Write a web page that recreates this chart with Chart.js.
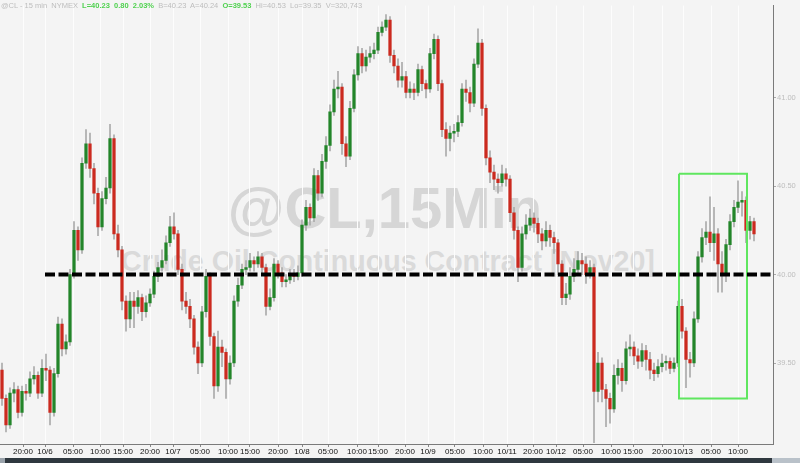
<!DOCTYPE html>
<html>
<head>
<meta charset="utf-8">
<script src="https://cdn.jsdelivr.net/npm/chart.js@4"></script>
<style>
  html, body { margin:0; padding:0; }
  body { width:800px; height:463px; overflow:hidden; position:relative; background:#f4f4f4; font-family:"Liberation Sans", Arial, sans-serif; }
  .wm { position:absolute; white-space:nowrap; font-weight:bold; transform:translateX(-50%); line-height:1; }
  #wm1 { left:385px; top:179px; font-size:58px; color:#d6d6d6; }
  #wm2 { left:388px; top:247px; font-size:28.6px; color:#dadada; }
  #hdr { position:absolute; left:1px; top:1px; font-size:7.5px; line-height:9px; color:#bdbdbd; white-space:nowrap; z-index:3; }
  #hdr .g { color:#4fd14f; font-weight:bold; }
  #c { position:absolute; left:0; top:0; z-index:2; }
  #sb { position:absolute; left:0; top:458px; width:800px; height:5px; background:#2f383f; }
  #sb .l { position:absolute; left:0; top:0; width:5px; height:5px; background:#9aa3ab; }
  #sb .r { position:absolute; left:772px; top:0; width:28px; height:5px; background:#b9c1c9; }
</style>
</head>
<body>
<div class="wm" id="wm1">@CL,15Min</div>
<div class="wm" id="wm2">Crude Oil Continuous Contract [Nov20]</div>
<div id="hdr">@CL - 15 min&nbsp; NYMEX&nbsp; <span class="g">L=40.23&nbsp; 0.80&nbsp; 2.03%</span>&nbsp; B=40.23&nbsp; A=40.24&nbsp; <span class="g">O=39.53</span>&nbsp; Hi=40.53&nbsp; Lo=39.35&nbsp; V=320,743</div>
<canvas id="c" width="800" height="458"></canvas>
<div id="sb"><div class="l"></div><div class="r"></div></div>
<script>
// ---- data (15-min candles) ----
const openFirst = 39.46;
const closes = [39.30,39.15,39.33,39.35,39.22,39.34,39.33,39.41,39.43,39.33,
39.47,39.46,39.22,39.44,39.72,39.58,39.62,40.00,40.25,40.14,
40.63,40.74,40.60,40.46,40.27,40.43,40.49,40.77,40.23,40.14,
39.85,39.75,39.85,39.82,39.87,39.79,39.84,39.89,39.99,40.04,
40.08,40.18,40.27,40.23,40.03,39.85,39.82,39.75,39.59,39.50,
39.79,39.99,39.65,39.37,39.59,39.56,39.41,39.50,39.85,39.94,
40.03,40.04,40.08,40.06,40.10,40.04,39.82,39.87,40.06,40.01,
39.96,39.97,40.00,39.99,40.01,40.28,40.38,40.32,40.56,40.46,
40.64,40.73,40.92,41.05,41.06,40.74,40.67,40.94,41.13,41.25,
41.18,41.23,41.25,41.27,41.37,41.40,41.44,41.24,41.18,41.10,
41.12,41.03,41.05,41.03,41.16,41.08,41.05,41.25,41.33,41.08,
40.82,40.77,40.80,40.81,40.86,41.05,41.03,40.97,41.19,41.31,
40.94,40.66,40.58,40.54,40.52,40.57,40.54,40.35,40.25,40.04,
40.23,40.28,40.32,40.29,40.23,40.19,40.25,40.21,40.18,40.06,
39.87,39.89,39.99,40.03,40.08,40.06,40.00,40.04,39.34,39.50,
39.35,39.30,39.24,39.43,39.47,39.40,39.58,39.59,39.54,39.51,
39.57,39.52,39.46,39.44,39.48,39.50,39.51,39.47,39.50,39.82,
39.68,39.52,39.50,39.75,40.10,40.21,40.24,40.18,40.23,40.06,
40.01,40.17,40.30,40.38,40.41,40.42,40.25,40.30,40.23];
const highs = [39.50,39.32,39.36,39.39,39.37,39.37,39.38,39.45,39.48,39.45,
39.52,39.55,39.48,39.47,39.76,39.75,39.66,40.03,40.30,40.27,
40.66,40.82,40.80,40.63,40.49,40.47,40.55,40.85,40.79,40.28,
40.16,39.88,39.90,39.90,39.91,39.89,39.88,39.92,40.02,40.07,
40.14,40.22,40.33,40.35,40.25,40.06,39.90,39.86,39.77,39.62,
39.82,40.03,40.01,39.67,39.68,39.63,39.58,39.54,39.88,39.98,
40.06,40.08,40.12,40.10,40.13,40.12,40.06,39.92,40.09,40.08,
40.04,40.00,40.03,40.03,40.05,40.31,40.42,40.40,40.60,40.59,
40.68,40.78,40.96,41.10,41.15,41.08,40.78,40.98,41.16,41.29,
41.28,41.27,41.29,41.31,41.40,41.43,41.47,41.46,41.27,41.22,
41.20,41.15,41.09,41.08,41.19,41.18,41.10,41.28,41.36,41.35,
41.10,40.86,40.84,40.85,40.90,41.08,41.10,41.06,41.22,41.39,
41.33,40.96,40.70,40.62,40.57,40.62,40.60,40.56,40.38,40.27,
40.27,40.34,40.37,40.35,40.32,40.26,40.30,40.28,40.24,40.20,
40.08,39.95,40.04,40.09,40.13,40.12,40.10,40.08,40.06,39.56,
39.53,39.38,39.33,39.49,39.52,39.50,39.62,39.66,39.62,39.58,
39.61,39.60,39.56,39.50,39.52,39.55,39.54,39.53,39.53,39.85,
39.86,39.70,39.56,39.79,40.13,40.26,40.30,40.44,40.38,40.26,
40.13,40.20,40.34,40.42,40.53,40.47,40.44,40.33,40.32];
const lows = [39.26,39.11,39.13,39.28,39.19,39.20,39.29,39.31,39.38,39.30,
39.31,39.40,39.15,39.20,39.42,39.54,39.55,39.60,39.98,40.08,
40.12,40.60,40.55,40.40,40.22,40.25,40.40,40.46,40.20,40.10,
39.80,39.68,39.70,39.70,39.78,39.74,39.76,39.82,39.87,39.96,
40.02,40.06,40.16,40.20,40.00,39.80,39.78,39.70,39.55,39.44,
39.48,39.76,39.60,39.30,39.34,39.48,39.30,39.38,39.48,39.82,
39.92,40.00,40.02,40.02,40.04,40.00,39.77,39.80,39.85,39.98,
39.93,39.93,39.95,39.96,39.97,39.99,40.25,40.28,40.30,40.42,
40.44,40.60,40.70,40.90,41.00,40.68,40.61,40.65,40.92,41.10,
41.14,41.15,41.20,41.22,41.25,41.35,41.38,41.20,41.14,41.06,
41.06,41.00,41.00,40.99,41.01,41.04,41.00,41.03,41.22,41.04,
40.78,40.67,40.70,40.75,40.78,40.84,40.98,40.92,40.95,41.17,
40.90,40.62,40.52,40.48,40.46,40.50,40.50,40.30,40.20,39.96,
40.02,40.20,40.25,40.24,40.18,40.14,40.16,40.16,40.12,40.00,
39.83,39.83,39.86,39.96,40.00,40.00,39.95,39.98,39.05,39.28,
39.28,39.14,39.16,39.22,39.38,39.34,39.38,39.54,39.49,39.47,
39.48,39.46,39.41,39.40,39.42,39.45,39.46,39.44,39.45,39.48,
39.64,39.36,39.42,39.48,39.73,40.07,40.17,40.13,40.08,39.90,
39.90,39.96,40.14,40.27,40.35,40.33,40.18,40.20,40.19];

// x-axis ticks (in candle-index units) and their labels
const tickPos = [5.25,10.75,17.75,24.5,30.25,37,42.75,49.5,56.5,62,69,75,81.5,88.75,94,100.75,106.5,113.25,120.25,126.25,132.75,138.5,145.25,152.25,157.75,165,170.25,177.25,184];
const tickLabels = ['20:00','10/6','05:00','10:00','15:00','20:00','10/7','05:00','10:00','15:00','20:00','10/8','05:00','10:00','15:00','20:00','10/9','05:00','10:00','10/11','20:00','10/12','05:00','10:00','15:00','20:00','10/13','05:00','10:00'];
const priceTicks = [39.5, 40.0, 40.5, 41.0];
const refLevel = 40.00;
const refStart = 10.75;
const boxX = [169.25, 186.25];
const boxY = [39.30, 40.57];
const xRange = [-0.5, 192.75];
const yRange = [39.042, 41.522];

// ---- build datasets ----
const opens = [openFirst].concat(closes.slice(0, -1));
const UP = '#23852a', DOWN = '#cb2a1f';
const bodies = closes.map((c, i) => ({ x: i, y: [opens[i], c] }));
const wicks = closes.map((c, i) => ({ x: i, y: [Math.min(lows[i], opens[i], c), Math.max(highs[i], opens[i], c)] }));
const bodyColors = closes.map((c, i) => c >= opens[i] ? UP : DOWN);

new Chart(document.getElementById('c'), {
  type: 'bar',
  data: {
    datasets: [
      { type: 'line', order: 0, data: [{x: refStart, y: refLevel}, {x: xRange[1], y: refLevel}],
        borderColor: '#000', borderWidth: 4, borderDash: [10, 3.5], pointRadius: 0, fill: false },
      { type: 'line', order: 0, data: [{x: boxX[0], y: boxY[1]}, {x: boxX[1], y: boxY[1]}, {x: boxX[1], y: boxY[0]}, {x: boxX[0], y: boxY[0]}, {x: boxX[0], y: boxY[1]}],
        borderColor: '#5fe65f', borderWidth: 2, pointRadius: 0, fill: false, tension: 0 },
      { order: 1, data: bodies, backgroundColor: bodyColors, barThickness: 2.6, grouped: false, borderWidth: 0, minBarLength: 1 },
      { order: 2, data: wicks, backgroundColor: '#ababab', barThickness: 1, grouped: false, borderWidth: 0 }
    ]
  },
  options: {
    responsive: false,
    animation: false,
    devicePixelRatio: 1,
    layout: { padding: 0 },
    plugins: { legend: { display: false }, tooltip: { enabled: false }, title: { display: false } },
    scales: {
      x: {
        type: 'linear', position: 'bottom', min: xRange[0], max: xRange[1], offset: false,
        grid: { color: '#fdfdfd', lineWidth: 1, offset: false, drawTicks: true, tickLength: 3, tickColor: '#888' },
        border: { color: '#7a7a7a', width: 1 },
        afterBuildTicks: s => { s.ticks = tickPos.map(v => ({ value: v })); },
        afterFit: s => { s.height = 14; },
        ticks: { autoSkip: false, maxRotation: 0, padding: 0, color: '#111', font: { size: 8, family: '"Liberation Sans", Arial' },
          callback: (v, i) => tickLabels[i] }
      },
      y: {
        type: 'linear', position: 'right', min: yRange[0], max: yRange[1],
        grid: { drawOnChartArea: false, drawTicks: true, tickLength: 3, tickColor: '#aaa' },
        border: { color: '#7a7a7a', width: 1 },
        afterBuildTicks: s => { s.ticks = priceTicks.map(v => ({ value: v })); },
        afterFit: s => { s.width = 27; },
        ticks: { padding: 1, color: '#bdbdbd', font: { size: 7.5, family: '"Liberation Sans", Arial' },
          callback: v => v.toFixed(2) }
      }
    }
  }
});
</script>
</body>
</html>
